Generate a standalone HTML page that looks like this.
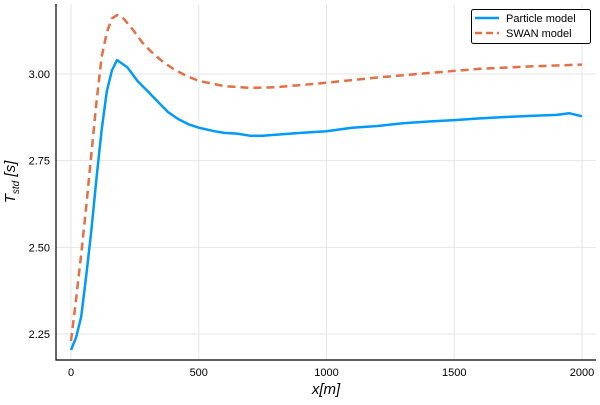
<!DOCTYPE html>
<html><head><meta charset="utf-8"><style>
body{margin:0;background:#fff}
text{font-family:"Liberation Sans",sans-serif}
</style></head><body>
<svg id="c" width="600" height="400" xmlns="http://www.w3.org/2000/svg"></svg>
<script>
const xTicks=[0,500,1000,1500,2000];
const yTicks=[2.25,2.5,2.75,3.0];
const yTickLabels=["2.25","2.50","2.75","3.00"];
const particleX=[0,20,40,60,80,100,120,140,160,180,200,220,260,300,340,380,420,460,500,560,600,650,700,750,800,900,1000,1100,1200,1300,1400,1500,1600,1700,1800,1900,1950,2000];
const particleY=[2.204,2.24,2.30,2.42,2.55,2.70,2.84,2.95,3.01,3.04,3.03,3.02,2.98,2.95,2.92,2.89,2.87,2.855,2.845,2.835,2.83,2.828,2.822,2.822,2.825,2.83,2.835,2.845,2.85,2.858,2.863,2.867,2.872,2.876,2.879,2.882,2.887,2.878];
const swanX=[0,20,40,60,80,100,120,140,160,180,200,240,280,320,360,400,450,500,600,700,800,900,1000,1200,1400,1600,1800,2000];
const swanY=[2.23,2.35,2.48,2.62,2.77,2.92,3.05,3.12,3.16,3.17,3.165,3.13,3.09,3.06,3.035,3.015,2.995,2.98,2.965,2.96,2.962,2.968,2.975,2.99,3.003,3.015,3.022,3.027];
const NS="http://www.w3.org/2000/svg",svg=document.getElementById('c');
const L=56,R=596,T=4,B=360;
const sx=v=>71+v*(582-71)/2000;
const sy=v=>74+(3.0-v)*(334-74)/0.75;
function mk(tag,attrs,parent){const e=document.createElementNS(NS,tag);for(const k in attrs)e.setAttribute(k,attrs[k]);(parent||svg).appendChild(e);return e;}
xTicks.forEach(t=>{
 const g=mk('line',{x1:sx(t),x2:sx(t),y1:T,y2:B,stroke:'#e6e6e6','stroke-width':1});
 
 
 const tx=mk('text',{x:sx(t),y:B+16,'text-anchor':'middle','font-size':11,fill:'#000'});
 tx.textContent=t;
 
 
});
yTicks.forEach((t,i)=>{
 const g=mk('line',{x1:L,x2:R,y1:sy(t),y2:sy(t),stroke:'#e6e6e6','stroke-width':1});
 
 
 const tx=mk('text',{x:L-6,y:sy(t)+4,'text-anchor':'end','font-size':11,fill:'#000'});
 tx.textContent=yTickLabels[i];
 
 
});
const ax=mk('path',{d:`M${L} ${T}V${B}H${R}`,stroke:'#000','stroke-width':1.2,fill:'none'});


function pts(xs,ys){return xs.map((x,i)=>sx(x).toFixed(1)+','+sy(ys[i]).toFixed(1)).join(' ');}
const s1=mk('polyline',{points:pts(swanX,swanY),fill:'none',stroke:'#e26f46','stroke-width':2.5,'stroke-dasharray':'8 5'});


const s2=mk('polyline',{points:pts(particleX,particleY),fill:'none',stroke:'#009af9','stroke-width':2.5,'stroke-linejoin':'round'});


const xl=mk('text',{x:326,y:394,'text-anchor':'middle','font-size':15,'font-style':'italic'});
xl.innerHTML='x[m]';


const yl=mk('text',{transform:'translate(15,182) rotate(-90)','text-anchor':'middle','font-size':15,'font-style':'italic'});
yl.innerHTML='T<tspan font-size="10" dy="4">std</tspan><tspan dy="-4"> [s]</tspan>';


const lg=mk('g',{});


mk('rect',{x:471.5,y:9.5,width:119,height:34,fill:'#fff',stroke:'#000','stroke-width':1,rx:2},lg);
mk('line',{x1:475,x2:499,y1:18,y2:18,stroke:'#009af9','stroke-width':2.5},lg);
mk('line',{x1:475,x2:499,y1:33,y2:33,stroke:'#e26f46','stroke-width':2.5,'stroke-dasharray':'7 4'},lg);
const t1=mk('text',{x:506,y:22,'font-size':11},lg);t1.textContent='Particle model';


const t2=mk('text',{x:506,y:37,'font-size':11},lg);t2.textContent='SWAN model';


</script>
</body></html>
